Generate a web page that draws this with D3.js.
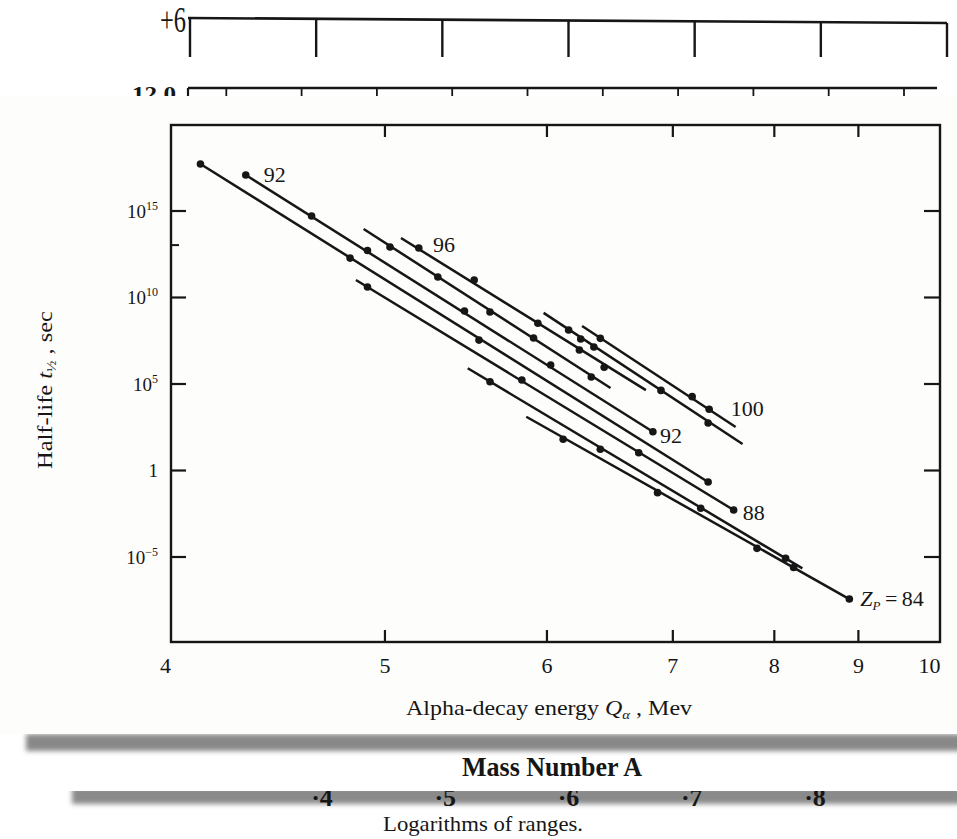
<!DOCTYPE html>
<html>
<head>
<meta charset="utf-8">
<script src="https://cdn.jsdelivr.net/npm/d3@7"></script>
<style>
  body { margin: 0; background: #fff; }
  svg { display: block; }
</style>
</head>
<body>
<script>
// Geiger-Nuttall plot: one ruled line per daughter Z
var seriesZ = [100, 98, 96, 94, 92, 90, 88, 86, 84];

// ends of each ruled line: [Q alpha (MeV), log10 half-life (sec)]
var lineStart = [[6.26, 8.32], [5.98, 9.08], [5.09, 13.41], [4.89, 13.93], [4.33, 17.05],
                 [4.14, 17.69], [4.85, 10.98], [5.48, 5.88], [5.86, 3.08]];
var lineEnd = [[7.60, 2.49], [7.67, 1.50], [6.77, 4.62], [6.48, 4.74], [6.83, 2.21],
               [7.33, -0.69], [7.58, -2.31], [8.32, -5.69], [8.89, -7.46]];

// measured isotopes on each line
var pointQ = [
  [6.40, 7.18, 7.34],
  [6.16, 6.25, 6.35, 6.90, 7.33],
  [5.19, 5.52, 5.94, 6.24, 6.43],
  [5.03, 5.30, 5.62, 5.91, 6.33],
  [4.33, 4.63, 4.91, 5.46, 6.03, 6.83],
  [4.14, 4.82, 5.55, 7.33],
  [4.91, 5.83, 6.71, 7.58],
  [5.62, 6.40, 7.26, 8.13],
  [6.12, 6.87, 7.82, 8.22, 8.89]
];
var pointLogT = [
  [7.61, 4.24, 3.51],
  [8.09, 7.57, 7.11, 4.60, 2.72],
  [12.83, 10.98, 8.48, 6.94, 5.94],
  [12.89, 11.16, 9.13, 7.63, 5.38],
  [17.05, 14.68, 12.69, 9.19, 6.07, 2.21],
  [17.69, 12.25, 7.51, -0.69],
  [10.58, 5.20, 1.00, -2.31],
  [5.10, 1.20, -2.21, -5.10],
  [1.78, -1.31, -4.53, -5.64, -7.46]
];

// line labels: text, series index, which end
var labelText = ["92", "96", "100", "92", "88"];
var labelSeries = [4, 2, 0, 4, 6];
var labelAtEnd = [false, false, true, true, true];

var xTicks = [4, 5, 6, 7, 8, 9, 10];
var yTicks = [1e-5, 1, 1e5, 1e10, 1e15];
var yTickExp = ["\u22125", "", "5", "10", "15"];

// fragments of the neighbouring scans
var rangeTicks = ["\u00b74", "\u00b75", "\u00b76", "\u00b77", "\u00b78"];

var svgWidth = 957;
var svgHeight = 839;
var serif = "'Liberation Serif', 'Times New Roman', serif";
var ink = "#161616";

var svg = d3.select("body")
  .append("svg")
  .attr("width", svgWidth)
  .attr("height", svgHeight)
  .attr("font-family", serif);

var defs = svg.append("defs");
defs.append("filter").attr("id", "soft")
  .attr("x", "-5%").attr("y", "-100%").attr("width", "110%").attr("height", "300%")
  .append("feGaussianBlur").attr("stdDeviation", 2.4);

svg.append("rect").attr("width", svgWidth).attr("height", svgHeight).attr("fill", "#fff");

// ---- top fragment: "+6" scale ----
var topScale = d3.scaleLinear().domain([0, 6]).range([190, 947]);
var topY = d3.scaleLinear().domain([190, 947]).range([18, 23]);
svg.append("line")
  .attr("x1", 188).attr("x2", 947).attr("y1", topY(188)).attr("y2", topY(947))
  .attr("stroke", ink).attr("stroke-width", 2.6);
svg.selectAll(".topTick")
  .data(d3.range(0, 7))
  .enter().append("line")
  .attr("x1", d => topScale(d)).attr("x2", d => topScale(d))
  .attr("y1", d => topY(topScale(d))).attr("y2", 57)
  .attr("stroke", ink).attr("stroke-width", 2.4);
svg.append("text")
  .attr("x", 186).attr("y", 32)
  .attr("text-anchor", "end")
  .attr("font-size", 36)
  .attr("textLength", 26).attr("lengthAdjust", "spacingAndGlyphs")
  .attr("fill", ink)
  .text("+6");

// ---- "12.0" scale fragment ----
var midScale = d3.scaleLinear().domain([0, 10]).range([151, 904]);
svg.append("line")
  .attr("x1", 188).attr("x2", 937).attr("y1", 88).attr("y2", 88)
  .attr("stroke", ink).attr("stroke-width", 2.6);
svg.selectAll(".midTick")
  .data(d3.range(1, 11))
  .enter().append("line")
  .attr("x1", d => midScale(d)).attr("x2", d => midScale(d))
  .attr("y1", 88).attr("y2", 100)
  .attr("stroke", ink).attr("stroke-width", 1.8);
svg.append("line")
  .attr("x1", 188).attr("x2", 188).attr("y1", 88).attr("y2", 100)
  .attr("stroke", ink).attr("stroke-width", 2.2);
svg.append("text")
  .attr("x", 176).attr("y", 101)
  .attr("text-anchor", "end")
  .attr("font-size", 22).attr("font-weight", "bold")
  .attr("textLength", 44).attr("lengthAdjust", "spacingAndGlyphs")
  .attr("fill", ink)
  .text("12.0");

// ---- bottom fragment: logarithms of ranges ----
svg.append("text")
  .attr("x", 483).attr("y", 831)
  .attr("text-anchor", "middle")
  .attr("font-size", 22)
  .attr("textLength", 200).attr("lengthAdjust", "spacingAndGlyphs")
  .attr("fill", ink)
  .text("Logarithms  of  ranges.");

svg.append("rect")
  .attr("x", 72).attr("y", 787).attr("width", 900).attr("height", 17)
  .attr("fill", "#8a8a8a").attr("filter", "url(#soft)");

var rangeScale = d3.scalePoint().domain(rangeTicks).range([322, 815]);
svg.selectAll(".rangeLab")
  .data(rangeTicks)
  .enter().append("text")
  .attr("x", d => rangeScale(d)).attr("y", 806)
  .attr("text-anchor", "middle")
  .attr("font-size", 26).attr("font-weight", "bold")
  .attr("fill", ink)
  .text(d => d);

// ---- "Mass Number A" strip ----
svg.append("rect")
  .attr("x", 0).attr("y", 750).attr("width", svgWidth).attr("height", 41)
  .attr("fill", "#fff");
svg.append("text")
  .attr("x", 552).attr("y", 776)
  .attr("text-anchor", "middle")
  .attr("font-size", 27).attr("font-weight", "bold")
  .attr("textLength", 180).attr("lengthAdjust", "spacingAndGlyphs")
  .attr("fill", ink)
  .text("Mass Number A");

svg.append("rect")
  .attr("x", 26).attr("y", 734).attr("width", 940).attr("height", 17)
  .attr("fill", "#888").attr("filter", "url(#soft)");

// ---- main scan panel ----
svg.append("rect")
  .attr("x", 0).attr("y", 96).attr("width", svgWidth).attr("height", 638)
  .attr("fill", "#fdfdfc");

var x = d3.scalePow().exponent(-0.5).domain([4, 10]).range([165, 929]);
var y = d3.scaleLog().domain([1e-10, 1e20]).range([643, 124]);

var frame = { left: 171, right: 940, top: 125, bottom: 642 };

var chartGroup = svg.append("g");

chartGroup.append("rect")
  .attr("x", frame.left).attr("y", frame.top)
  .attr("width", frame.right - frame.left).attr("height", frame.bottom - frame.top)
  .attr("fill", "none").attr("stroke", ink).attr("stroke-width", 2.4);

// bottom axis (ticks point inward)
var bottomAxis = d3.axisBottom(x).tickValues(xTicks)
  .tickSizeInner(-12).tickSizeOuter(0).tickPadding(15).tickFormat(d3.format("d"));
var gb = chartGroup.append("g")
  .attr("transform", `translate(0, ${frame.bottom})`)
  .call(bottomAxis);
gb.select(".domain").remove();
gb.selectAll(".tick").filter(d => d === 4 || d === 10).select("line").remove();
gb.selectAll("line").attr("stroke", ink).attr("stroke-width", 2.2);
gb.selectAll("text").attr("font-family", serif).attr("font-size", 22).attr("fill", ink);

var topAxis = d3.axisTop(x).tickValues([5, 6, 7, 8, 9]).tickSizeInner(-12).tickSizeOuter(0).tickFormat("");
var gt = chartGroup.append("g")
  .attr("transform", `translate(0, ${frame.top})`)
  .call(topAxis);
gt.select(".domain").remove();
gt.selectAll("line").attr("stroke", ink).attr("stroke-width", 2.2);

// left axis with power-of-ten labels
var leftAxis = d3.axisLeft(y).tickValues(yTicks).tickSizeInner(-15).tickSizeOuter(0)
  .tickPadding(8).tickFormat("");
var gl = chartGroup.append("g")
  .attr("transform", `translate(${frame.left}, 0)`)
  .call(leftAxis);
gl.select(".domain").remove();
gl.selectAll("line").attr("stroke", ink).attr("stroke-width", 2.2);
gl.selectAll(".tick").each(function(d, i) {
  var t = d3.select(this).append("text")
    .attr("x", -13).attr("dy", "0.35em")
    .attr("text-anchor", "end")
    .attr("font-family", serif).attr("font-size", 19).attr("fill", ink);
  if (yTickExp[i] === "") {
    t.text("1");
  } else {
    t.append("tspan").text("10");
    t.append("tspan").attr("font-size", 12).attr("dy", -8).text(yTickExp[i]);
  }
});
// small intermediate tick
chartGroup.append("line")
  .attr("x1", frame.left).attr("x2", frame.left + 8)
  .attr("y1", y(1e13)).attr("y2", y(1e13))
  .attr("stroke", ink).attr("stroke-width", 2);

var rightAxis = d3.axisRight(y).tickValues(yTicks).tickSizeInner(-16).tickSizeOuter(0).tickFormat("");
var gr = chartGroup.append("g")
  .attr("transform", `translate(${frame.right}, 0)`)
  .call(rightAxis);
gr.select(".domain").remove();
gr.selectAll("line").attr("stroke", ink).attr("stroke-width", 2.2);

// axis titles
var xTitle = chartGroup.append("text")
  .attr("x", 549).attr("y", 715)
  .attr("text-anchor", "middle")
  .attr("font-size", 21).attr("fill", ink)
  .attr("textLength", 286).attr("lengthAdjust", "spacingAndGlyphs");
xTitle.append("tspan").text("Alpha-decay energy ");
xTitle.append("tspan").attr("font-style", "italic").text("Q");
xTitle.append("tspan").attr("font-size", 13).attr("dy", 4).attr("font-style", "italic").text("\u03b1");
xTitle.append("tspan").attr("dy", -4).text(" , Mev");

var yTitle = chartGroup.append("text")
  .attr("transform", "translate(52, 390) rotate(-90)")
  .attr("text-anchor", "middle")
  .attr("font-size", 21).attr("fill", ink)
  .attr("textLength", 158).attr("lengthAdjust", "spacingAndGlyphs");
yTitle.append("tspan").text("Half-life ");
yTitle.append("tspan").attr("font-style", "italic").text("t");
yTitle.append("tspan").attr("font-size", 13).attr("dy", 4).text("\u00bd");
yTitle.append("tspan").attr("dy", -4).text(" , sec");

// ruled lines
var line = d3.line()
  .x(d => x(d[0]))
  .y(d => y(Math.pow(10, d[1])));

chartGroup.selectAll(".zline")
  .data(seriesZ)
  .enter().append("path")
  .attr("class", "zline")
  .attr("d", (z, i) => line([lineStart[i], lineEnd[i]]))
  .attr("fill", "none")
  .attr("stroke", ink)
  .attr("stroke-width", 2.5);

// measured points
var points = [];
seriesZ.forEach(function(z, i) {
  pointQ[i].forEach(function(q, j) {
    points.push({ z: z, q: q, logT: pointLogT[i][j] });
  });
});

chartGroup.selectAll(".dot")
  .data(points)
  .enter().append("circle")
  .attr("class", "dot")
  .attr("cx", d => x(d.q))
  .attr("cy", d => y(Math.pow(10, d.logT)))
  .attr("r", 3.8)
  .attr("fill", ink);

// Z labels
var labelDx = [18, 32, -5, 7, 9];
var labelDy = [7, 14, -11, 11, 10];
labelText.forEach(function(txt, k) {
  var s = labelSeries[k];
  var p = labelAtEnd[k] ? lineEnd[s] : lineStart[s];
  chartGroup.append("text")
    .attr("x", x(p[0]) + labelDx[k])
    .attr("y", y(Math.pow(10, p[1])) + labelDy[k])
    .attr("font-size", 22).attr("fill", ink)
    .text(txt);
});

var zEnd = lineEnd[8];
var zLab = chartGroup.append("text")
  .attr("x", x(zEnd[0]) + 11)
  .attr("y", y(Math.pow(10, zEnd[1])) + 7)
  .attr("font-size", 22).attr("fill", ink);
zLab.append("tspan").attr("font-style", "italic").text("Z");
zLab.append("tspan").attr("font-style", "italic").attr("font-size", 13).attr("dy", 4).text("P");
zLab.append("tspan").attr("dy", -4).text("\u2009=\u200984");
</script>
</body>
</html>
